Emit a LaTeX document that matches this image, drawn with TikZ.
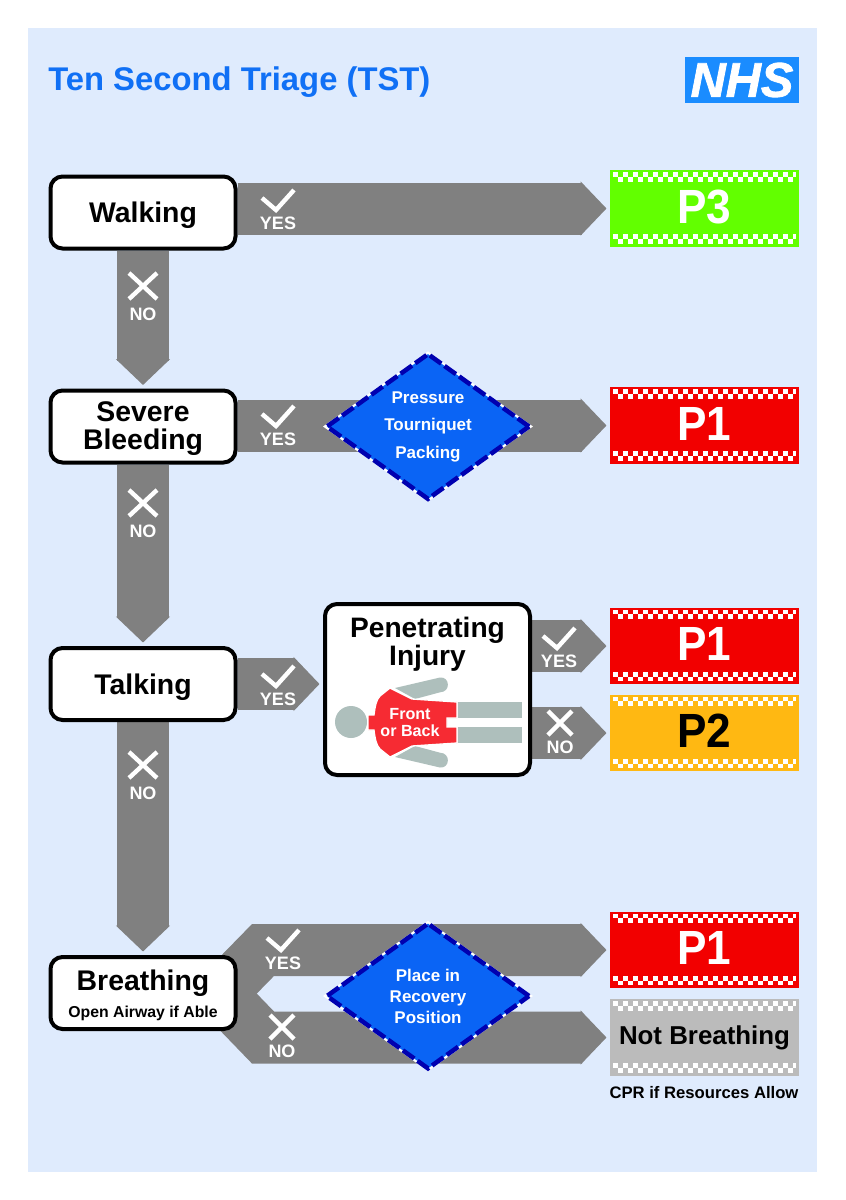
\documentclass[tikz,border=0pt]{standalone}
\usepackage{fontspec}
\setmainfont{Liberation Sans}
\newfontfamily\nhsfont{Liberation Sans}[BoldItalicFeatures={FakeBold=1.6}]
\usetikzlibrary{shapes.geometric,arrows.meta,calc}
\pgfdeclarelayer{under}
\pgfsetlayers{under,main}
\definecolor{panel}{HTML}{DFEBFD}
\definecolor{flowgrey}{HTML}{808080}
\definecolor{titleblue}{HTML}{1070F5}
\definecolor{nhsblue}{HTML}{1A8CFF}
\definecolor{dblue}{HTML}{0A64F5}
\definecolor{ddash}{HTML}{0000B0}
\definecolor{pgreen}{HTML}{62FF00}
\definecolor{pred}{HTML}{F20000}
\definecolor{pamber}{HTML}{FFB812}
\definecolor{pgrey}{HTML}{BBBBBB}
\definecolor{bodyc}{HTML}{AEBFBC}
\definecolor{torso}{HTML}{F62B33}
\tikzset{
  flow/.style={draw=flowgrey,line width=39pt,line join=miter,shorten >=2.6pt,
    -{Triangle[length=19.5pt,width=39.6pt,fill=flowgrey]}},
  stepbox/.style={draw=black,fill=white,line width=3pt,rounded corners=9pt,
    minimum width=138.75pt,minimum height=54pt,inner sep=0pt,align=center,
    font=\bfseries\fontsize{21.3}{21}\selectfont},
  tbox/.style={rectangle,minimum width=141.75pt,minimum height=57.5pt,inner sep=0pt,outer sep=0pt},
  chk/.style={draw=white,line width=3.6pt,dash pattern=on 3.75pt off 3.75pt},
  act/.style={diamond,aspect=1.4,fill=dblue,minimum width=153pt,minimum height=110pt,inner sep=0pt,
    text=white,align=center,draw=ddash,line width=3.4pt,dash pattern=on 10.5pt off 3pt,
    preaction={draw=white,solid,line width=3.4pt}},
  whitemark/.style={draw=white,line width=3.3pt,line cap=butt,line join=miter},
  lab/.style={text=white,inner sep=0pt,font=\bfseries\fontsize{13.5}{13.5}\selectfont},
  pics/yes/.style={code={
    \draw[whitemark] (-16,-25) -- (-2,-13) -- (16,-33);
    \node[lab] (-t) at (0,0) {YES};
  }},
  pics/no/.style={code={
    \draw[whitemark] (-14,-41) -- (14,-15) (-14,-15) -- (14,-41);
    \node[lab] (-t) at (0,0) {NO};
  }},
  pics/nosmall/.style={code={
    \draw[whitemark] (-12,-36) -- (12,-12) (-12,-12) -- (12,-36);
    \node[lab] (-t) at (0,0) {NO};
  }}
}
\newcommand{\tall}[1]{\rule{0pt}{#1pt}}
\newcommand{\ptxt}[1]{\scalebox{.92}[1]{#1}\rule[-3pt]{0pt}{3pt}}
\newcommand{\triage}[6]{%
  \node[tbox,fill=#3,text=#4,font=\bfseries\fontsize{#5}{#5}\selectfont] (#1) at #2 {#6};
  \draw[chk] ($(#1.north west)+(3,4.4)$) -- ($(#1.north east)+(-3,4.4)$);
  \draw[chk,dash phase=3.75pt] ($(#1.north west)+(3,9.2)$) -- ($(#1.north east)+(-3,9.2)$);
  \draw[chk] ($(#1.south west)+(3,-10.2)$) -- ($(#1.south east)+(-3,-10.2)$);
  \draw[chk,dash phase=3.75pt] ($(#1.south west)+(3,-5.4)$) -- ($(#1.south east)+(-3,-5.4)$);
}
\begin{document}
\begin{tikzpicture}[x=0.75pt,y=-0.75pt]
\useasboundingbox (0,0) rectangle (846,1200);
\begin{pgfonlayer}{under}
  \fill[panel] (28,28) rectangle (817,1172);
\end{pgfonlayer}

\node[anchor=base west,inner sep=0pt,text=titleblue,font=\bfseries\fontsize{24.6}{24.6}\selectfont] (title) at (48,90) {Ten Second Triage (TST)};
\node[fill=nhsblue,text=white,minimum width=85.5pt,minimum height=34.5pt,inner sep=0pt,font=\nhsfont\bfseries\itshape\fontsize{36.5}{36.5}\selectfont] (nhs) at (742,80) {NHS};

% decision boxes
\node[stepbox] (walk) at (143,212.5) {\tall{20}Walking};
\node[stepbox] (sev) at (143,426.5) {\tall{18.7}Severe\\Bleeding};
\node[stepbox] (talk) at (143,684) {\tall{20}Talking};
\node[stepbox] (breath) at (143,993) {\tall{18.7}Breathing\\[-1pt]{\fontsize{11.85}{12}\selectfont Open Airway if Able}};
\node[stepbox,minimum width=153.75pt,minimum height=128.25pt] (pen) at (427.5,689.5) {};
\node[inner sep=0pt,align=center,font=\bfseries\fontsize{21.1}{21}\selectfont] (pentitle) at (427.5,644) {Penetrating\\Injury};

% outcomes
\triage{p3}{(704.5,208.5)}{pgreen}{white}{36}{\ptxt{P3}}
\triage{p1a}{(704.5,425.5)}{pred}{white}{36}{\ptxt{P1}}
\triage{p1b}{(704.5,646)}{pred}{white}{36}{\ptxt{P1}}
\triage{p2}{(704.5,733)}{pamber}{black}{36}{\ptxt{P2}}
\triage{p1c}{(704.5,950)}{pred}{white}{36}{\ptxt{P1}}
\triage{nb}{(704.5,1037.5)}{pgrey}{black}{19.4}{Not Breathing}
\node[inner sep=0pt,text=black,font=\bfseries\fontsize{12.5}{12.5}\selectfont] (cpr) at (704,1093) {CPR if Resources Allow};

% action diamonds
\node[act,font=\bfseries\fontsize{12.75}{20.6}\selectfont] (dsev) at (428,426.5) {Pressure\\Tourniquet\\Packing};
\node[act,font=\bfseries\fontsize{12.75}{15.75}\selectfont] (dbr) at (428,996) {Place in\\Recovery\\Position};

% connectors
\begin{pgfonlayer}{under}
  \draw[flow] (walk.south) -- (sev.north);
  \draw[flow] (sev.south) -- (talk.north);
  \draw[flow] (talk.south) -- (breath.north);
  \draw[flow] (walk.east |- p3.west) -- (p3.west);
  \draw[flow] (sev.east |- p1a.west) -- (p1a.west);
  \draw[flow] (talk.east) -- (pen.west |- talk.east);
  \draw[flow] (pen.east |- p1b.west) -- (p1b.west);
  \draw[flow] (pen.east |- p2.west) -- (p2.west);
  \coordinate (bj) at (220.5,993.5);
  \coordinate (ba) at (263,950);
  \coordinate (bb) at (263,1037.5);
  \draw[flow] (breath.center) -- (bj) -- (ba) -- (p1c.west);
  \draw[flow] (breath.center) -- (bj) -- (bb) -- (nb.west);
\end{pgfonlayer}

% yes / no labels
\pic (ya) at (278,223) {yes};
\pic (yb) at (278,439) {yes};
\pic (yc) at (278,699) {yes};
\pic (yd) at (559,661) {yes};
\pic (ye) at (283,963) {yes};
\pic (na) at (143,314) {no};
\pic (nb1) at (143,531) {no};
\pic (nc) at (143,793) {no};
\pic (nd) at (560,747) {nosmall};
\pic (ne) at (282,1051) {nosmall};

% body figure
\fill[bodyc] (351,722) circle [radius=16];
\fill[bodyc] (458,702) rectangle (522,718);
\fill[bodyc] (458,727) rectangle (522,743);
\fill[bodyc] (395,688) -- (440,677.5) .. controls (450,676.5) and (451,692) .. (440,692.3) -- (415,699) -- cycle;
\fill[bodyc] (395,757) -- (440,767.5) .. controls (450,768.5) and (451,753) .. (440,752.7) -- (415,746) -- cycle;
\draw[draw=white,line width=1pt,fill=torso] (368,715) -- (374,715) .. controls (375,707) and (376,700) .. (380,696) -- (390,688) -- (412,699) -- (457,702) -- (457,718) -- (447,718) -- (447,727) -- (457,727) -- (457,743) -- (412,746) -- (390,757) -- (380,749) .. controls (376,745) and (375,738) .. (374,730) -- (368,730) -- cycle;
\node[inner sep=0pt,text=white,align=center,font=\bfseries\fontsize{12.1}{12.75}\selectfont] (torsotext) at (410,722.5) {Front\\or Back};
\end{tikzpicture}
\end{document}
